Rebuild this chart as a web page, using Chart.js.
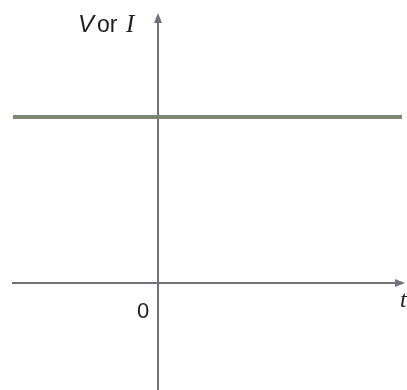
<!DOCTYPE html>
<html lang="en">
  <head>
    <meta charset="UTF-8" />
    <title>V or I against t</title>
    <script src="https://cdn.jsdelivr.net/npm/chart.js"></script>
    <style>
      body {
        margin: 0;
        background: #fff;
      }
      #wrap {
        width: 407px;
        height: 390px;
      }
    </style>
  </head>
  <body>
    <div id="wrap"><canvas id="dcChart" width="407" height="390"></canvas></div>

    <script>
      // constant (DC) level over time
      const times = [-1.45, 2.44];
      const levels = [1.66, 1.66];

      // axis ranges
      const tRange = [-1.58, 2.49];
      const vRange = [-1.07, 2.83];

      const axisColor = "#6e737b";

      // draws the two axes through the origin, arrows and labels
      const axesPlugin = {
        id: "originAxes",
        beforeDatasetsDraw(chart) {
          const ctx = chart.ctx;
          const x = chart.scales.x;
          const y = chart.scales.y;
          const x0 = x.getPixelForValue(0);
          const y0 = y.getPixelForValue(0);
          const left = x.getPixelForValue(-1.46);
          const right = x.getPixelForValue(2.47);
          const top = y.getPixelForValue(2.70);
          const bottom = chart.height;

          ctx.save();
          ctx.strokeStyle = axisColor;
          ctx.fillStyle = axisColor;
          ctx.lineWidth = 2;

          ctx.beginPath();
          ctx.moveTo(left, y0);
          ctx.lineTo(right - 6, y0);
          ctx.moveTo(x0, bottom);
          ctx.lineTo(x0, top + 6);
          ctx.stroke();

          // arrow heads
          ctx.beginPath();
          ctx.moveTo(right, y0);
          ctx.lineTo(right - 10, y0 - 4);
          ctx.lineTo(right - 10, y0 + 4);
          ctx.closePath();
          ctx.fill();

          ctx.beginPath();
          ctx.moveTo(x0, top);
          ctx.lineTo(x0 - 4, top + 10);
          ctx.lineTo(x0 + 4, top + 10);
          ctx.closePath();
          ctx.fill();

          // labels
          ctx.fillStyle = "#1e1e1e";
          ctx.textBaseline = "alphabetic";
          ctx.textAlign = "left";
          ctx.font = "italic 24px 'Liberation Sans'";
          ctx.fillText("V", x0 - 80, top + 19);
          ctx.font = "23px 'Liberation Sans'";
          ctx.fillText("or", x0 - 61, top + 19);
          ctx.font = "italic 25px 'Liberation Serif'";
          ctx.fillText("I", x0 - 32, top + 19);

          ctx.font = "22px 'Liberation Sans'";
          ctx.textAlign = "center";
          ctx.fillText("0", x0 - 15, y0 + 35);

          ctx.font = "italic 24px 'Liberation Serif'";
          ctx.textAlign = "left";
          ctx.fillText("t", right - 5, y0 + 24);
          ctx.restore();
        },
      };

      new Chart(document.getElementById("dcChart"), {
        type: "line",
        data: {
          datasets: [
            {
              label: "V or I",
              data: times.map((t, i) => ({ x: t, y: levels[i] })),
              borderColor: "#7d866f",
              borderWidth: 4,
              pointRadius: 0,
              fill: false,
            },
          ],
        },
        options: {
          responsive: false,
          devicePixelRatio: 1,
          animation: false,
          layout: { padding: 0 },
          plugins: {
            legend: { display: false },
            tooltip: { enabled: false },
          },
          scales: {
            x: {
              type: "linear",
              min: tRange[0],
              max: tRange[1],
              display: false,
            },
            y: {
              type: "linear",
              min: vRange[0],
              max: vRange[1],
              display: false,
            },
          },
        },
        plugins: [axesPlugin],
      });
    </script>
  </body>
</html>
